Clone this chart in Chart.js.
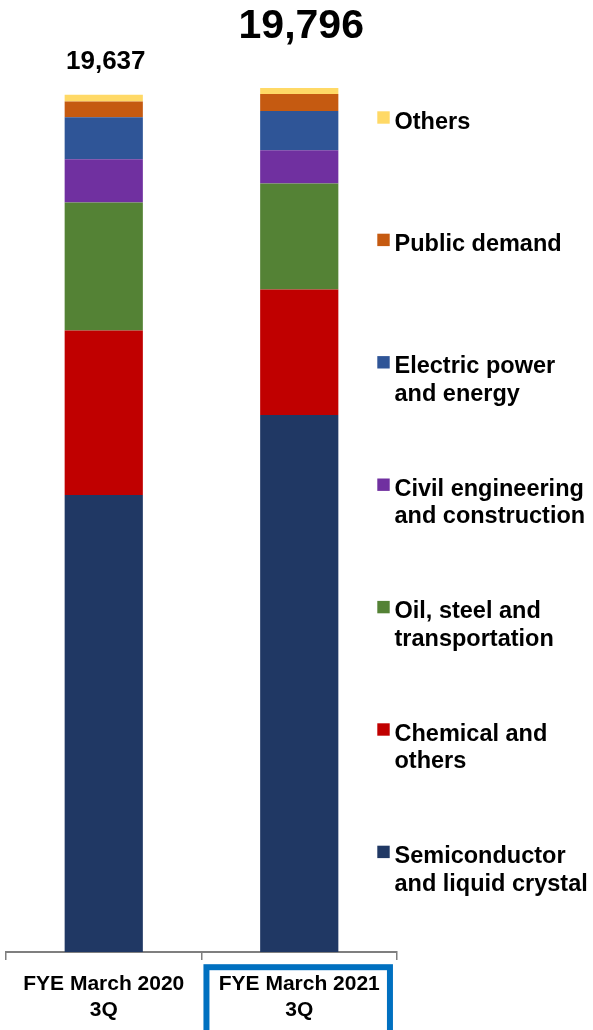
<!DOCTYPE html>
<html lang="en">
<head>
  <meta charset="UTF-8" />
  <title>Sales by Industry</title>
  <script src="https://cdn.jsdelivr.net/npm/chart.js"></script>
  <style>
    html, body {
      margin: 0;
      padding: 0;
      background: #ffffff;
    }
    #salesChart {
      display: block;
    }
  </style>
</head>
<body>
  <canvas id="salesChart" width="593" height="1030"></canvas>

  <script>
    // Periods on the x axis (multi-line labels)
    const periods = [
      ['FYE March 2020', '3Q'],
      ['FYE March 2021', '3Q']
    ];

    // Segment names, bottom of the stack first
    const segmentNames = [
      'Semiconductor\nand liquid crystal',
      'Chemical and\nothers',
      'Oil, steel and\ntransportation',
      'Civil engineering\nand construction',
      'Electric power\nand energy',
      'Public demand',
      'Others'
    ];

    // Values per segment: [FYE March 2020 3Q, FYE March 2021 3Q]
    const semiconductor = [10471, 12304];
    const chemical      = [3765, 2871];
    const oilSteel      = [2933, 2429];
    const civilEng      = [994, 765];
    const electric      = [962, 900];
    const publicDemand  = [357, 390];
    const others        = [155, 137];

    const segmentValues = [semiconductor, chemical, oilSteel, civilEng, electric, publicDemand, others];
    const segmentColors = ['#203864', '#C00000', '#548235', '#7030A0', '#2F5597', '#C55A11', '#FFD966'];

    const FONT = "'Liberation Sans', Arial, sans-serif";

    // total label styling, one per bar (the current year is emphasised)
    const totalStyle = [
      { size: 26, gap: 26 },
      { size: 41, gap: 50 }
    ];

    // sum of the stack above each category, written over the bar
    const totalsPlugin = {
      id: 'totals',
      afterDatasetsDraw(chart) {
        const { ctx, scales } = chart;
        ctx.save();
        ctx.fillStyle = '#000';
        ctx.textAlign = 'center';
        ctx.textBaseline = 'alphabetic';
        periods.forEach((p, i) => {
          let total = 0;
          chart.data.datasets.forEach(ds => { total += ds.data[i]; });
          const x = scales.x.getPixelForValue(i) + 2;
          const y = scales.y.getPixelForValue(total) - totalStyle[i].gap;
          ctx.font = `bold ${totalStyle[i].size}px ${FONT}`;
          ctx.fillText(total.toLocaleString('en-US'), x, y);
        });
        ctx.restore();
      }
    };

    // legend on the right, top segment first
    const sideLegend = {
      id: 'sideLegend',
      afterDraw(chart) {
        const ctx = chart.ctx;
        const items = chart.data.datasets.slice().reverse();
        const startY = 128.6, step = 122.4, lineGap = 27.5;
        ctx.save();
        ctx.font = `bold 23.5px ${FONT}`;
        ctx.textBaseline = 'alphabetic';
        ctx.textAlign = 'left';
        items.forEach((ds, k) => {
          const base = startY + k * step;
          ctx.fillStyle = ds.backgroundColor;
          ctx.fillRect(377.3, base - 17.3, 12.4, 12.4);
          ctx.fillStyle = '#000';
          ds.label.split('\n').forEach((line, j) => {
            ctx.fillText(line, 394.5, base + j * lineGap);
          });
        });
        ctx.restore();
      }
    };

    // blue frame around the current period label
    const highlightBox = {
      id: 'highlightBox',
      afterDraw(chart) {
        const ctx = chart.ctx;
        const xs = chart.scales.x;
        const cx = xs.getPixelForValue(1);
        ctx.save();
        ctx.strokeStyle = '#0070C0';
        ctx.lineWidth = 6;
        ctx.strokeRect(cx - 92.8, 967.2, 183.5, 80);
        ctx.restore();
      }
    };

    const datasets = segmentNames.map((name, i) => ({
      label: name,
      data: segmentValues[i],
      backgroundColor: segmentColors[i],
      borderWidth: 0,
      categoryPercentage: 1.0,
      barPercentage: 0.4
    }));

    new Chart(document.getElementById('salesChart'), {
      type: 'bar',
      data: { labels: periods, datasets: datasets },
      options: {
        responsive: false,
        animation: false,
        layout: { padding: { left: 6, right: 196, top: 79, bottom: 0 } },
        plugins: {
          legend: { display: false },
          tooltip: { enabled: false }
        },
        scales: {
          x: {
            stacked: true,
            grid: {
              offset: true,
              drawOnChartArea: false,
              tickLength: 8,
              color: '#7f7f7f',
              lineWidth: 1.5
            },
            border: { color: '#7f7f7f', width: 2 },
            ticks: {
              color: '#000',
              padding: 12,
              maxRotation: 0,
              autoSkip: false,
              font: { family: FONT, size: 21, weight: 'bold', lineHeight: 1.2 }
            },
            afterFit(scale) { scale.height = 78; }
          },
          y: {
            stacked: true,
            display: false,
            min: 0,
            max: 20000
          }
        }
      },
      plugins: [totalsPlugin, sideLegend, highlightBox]
    });
  </script>
</body>
</html>
